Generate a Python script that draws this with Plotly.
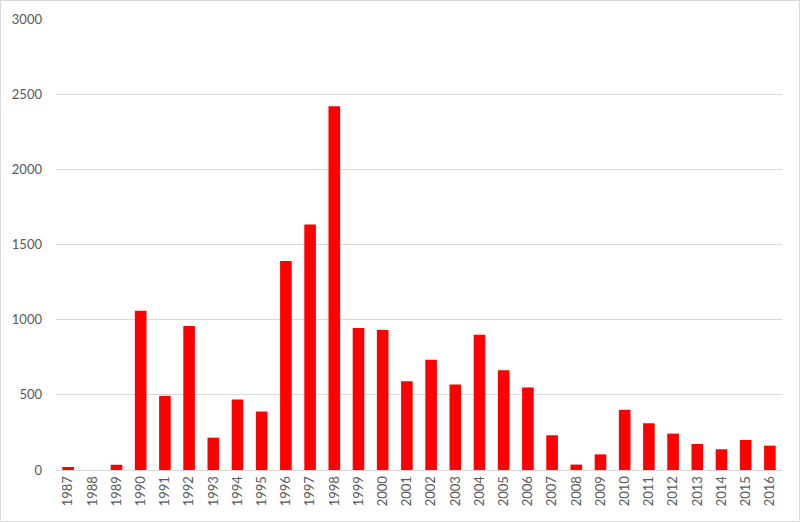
import plotly.graph_objects as go

years = [str(y) for y in range(1987, 2017)]
values = [20, 0, 35, 1060, 493, 958, 215, 469, 389, 1390, 1633, 2420,
          944, 931, 591, 733, 569, 900, 664, 549, 231, 36, 104, 400,
          311, 242, 173, 138, 200, 162]
y_ticks = [0, 500, 1000, 1500, 2000, 2500, 3000]

W, H = 800, 522
L, R, T, B = 56, 18, 19, 52
pw, ph = W - L - R, H - T - B

fig = go.Figure(go.Bar(x=years, y=values, marker=dict(color="#FF0000", line=dict(width=0))))

fig.update_layout(
    width=W, height=H,
    margin=dict(l=L, r=R, t=T, b=B, autoexpand=False),
    paper_bgcolor="white", plot_bgcolor="white",
    bargap=0.52,
    showlegend=False,
    font=dict(family="Lato, Open Sans, sans-serif", size=13, color="#595959"),
    xaxis=dict(type="category", tickangle=-90, showgrid=False, showline=True,
               linecolor="#d9d9d9", linewidth=1, ticks="", automargin=False,
               tickfont=dict(size=13, color="#595959")),
    yaxis=dict(range=[0, 3000], tickvals=y_ticks, showgrid=True, gridcolor="#d9d9d9",
               gridwidth=1, zeroline=False, showline=False, ticks="", automargin=False,
               tickfont=dict(size=13, color="#595959"), ticklabelstandoff=13),
    shapes=[dict(type="rect", xref="paper", yref="paper",
                 x0=(0.5 - L) / pw, x1=(W - 0.5 - L) / pw,
                 y0=-(H - 0.5 - T - ph) / ph, y1=1 + (T - 0.5) / ph,
                 line=dict(color="#d9d9d9", width=1), fillcolor="rgba(0,0,0,0)")],
)

fig.write_html("out.html",
               config={"displayModeBar": False},
               post_script="document.body.style.margin='0';document.body.style.overflow='hidden';")
